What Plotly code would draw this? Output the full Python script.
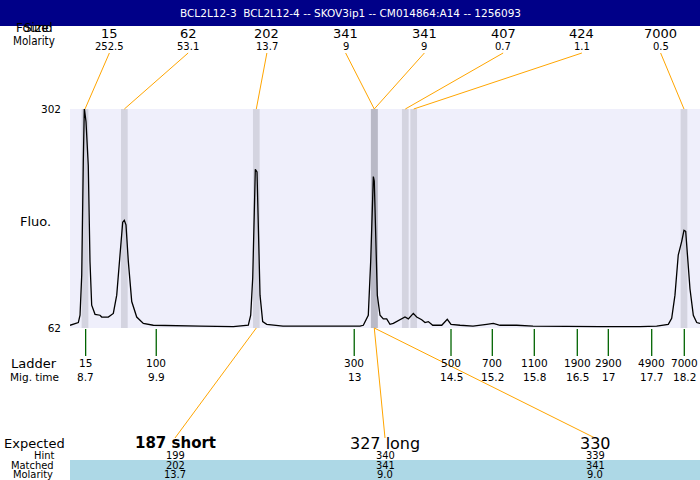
import plotly.graph_objects as go

# ---------------- data ----------------
title_text = "BCL2L12-3  BCL2L12-4 -- SKOV3ip1 -- CM014864:A14 -- 1256093"

mig_time = [8.462, 8.594, 8.621, 8.648, 8.673, 8.689, 8.716, 8.752, 8.779, 8.806,
            8.859, 8.938, 8.965, 9.070, 9.149, 9.203, 9.255, 9.298, 9.323, 9.350,
            9.387, 9.441, 9.520, 9.625, 9.783, 9.996, 10.524, 11.052, 11.290, 11.328,
            11.360, 11.385, 11.401, 11.428, 11.449, 11.476, 11.518, 11.582, 11.840, 12.427,
            12.903, 13.062, 13.114, 13.193, 13.231, 13.257, 13.273, 13.288, 13.311, 13.336,
            13.379, 13.431, 13.485, 13.537, 13.590, 13.669, 13.775, 13.828, 13.907, 13.961,
            14.040, 14.093, 14.145, 14.215, 14.358, 14.446, 14.505, 14.648, 14.854, 15.071,
            15.176, 15.282, 15.547, 15.805, 16.234, 16.868, 17.503, 17.767, 17.951, 18.005,
            18.057, 18.109, 18.164, 18.200, 18.227, 18.253, 18.295, 18.348, 18.402, 18.454]
fluo = [65, 68, 76, 120, 244, 303, 288, 240, 135, 87,
        77, 76, 74, 74, 78, 98, 142, 178, 180, 175,
        135, 91, 74, 67, 65, 64.5, 64, 63.5, 65, 76,
        117, 189, 236, 233, 178, 98, 69, 66, 64, 64,
        64, 64, 65, 76, 135, 208, 228, 223, 153, 98,
        76, 72, 72, 66, 67, 70, 74, 72, 78, 74,
        71, 68, 69, 65, 65, 71.5, 66, 65, 64, 66,
        67, 65, 65, 64, 63.5, 63.5, 63.5, 64, 66, 72.6,
        98, 142, 157, 169, 168, 142, 105, 76, 68, 67]

# found peaks
peak_size = ["15", "62", "202", "341", "341", "407", "424", "7000"]
peak_molarity = ["252.5", "53.1", "13.7", "9", "9", "0.7", "1.1", "0.5"]
peak_time = [8.70, 9.324, 11.417, 13.288, 13.288, 13.780, 13.913, 18.200]
peak_matched = [False, False, False, True, True, False, False, False]

# ladder
ladder_size = ["15", "100", "300", "500", "700", "1100", "1900", "2900", "4900", "7000"]
ladder_time = [8.71, 9.83, 12.97, 14.505, 15.16, 15.826, 16.508, 17.0, 17.688, 18.205]
ladder_time_label = ["8.7", "9.9", "13", "14.5", "15.2", "15.8", "16.5", "17", "17.7", "18.2"]

# expected products
expected_label = ["187 short", "327 long", "330"]
expected_bold = [True, False, False]
expected_peak_time = [11.417, 13.288, 13.288]
hint = ["199", "340", "339"]
matched = ["202", "341", "341"]
matched_molarity = ["13.7", "9.0", "9.0"]

y_range = [62, 302]
x_range = [8.462, 18.454]

# ---------------- layout helpers ----------------
W, H = 700, 480
def py(p):  # pixel row -> paper y
    return 1 - p / H
def px(p):  # pixel col -> paper x
    return p / W

FONT = "DejaVu Sans"
FONT_C = "DejaVu Sans Condensed, DejaVu Sans"
BG = "#efeffb"
BAND = "#d4d4e0"
BAND_DARK = "#b9b9c6"
ORANGE = "#ffa500"
GREEN = "#006400"

def slot(i, n):
    return x_range[0] + (x_range[1] - x_range[0]) * (i + 0.5) / n

fig = go.Figure()
fig.add_trace(go.Scatter(x=mig_time, y=fluo, mode="lines",
                         line=dict(color="black", width=1.3),
                         hoverinfo="skip", showlegend=False, cliponaxis=True))

shapes = []
annotations = []

def txt(text, x, y, size, xref="x", family=FONT, anchor="center", color="black"):
    annotations.append(dict(text=text, xref=xref, yref="paper", x=x, y=py(y), showarrow=False,
                            font=dict(family=family, size=size, color=color),
                            xanchor=anchor, yanchor="middle"))

# title bar
shapes.append(dict(type="rect", xref="paper", yref="paper", x0=0, x1=1,
                   y0=py(26), y1=1, fillcolor="#000088", line=dict(width=0), layer="above"))
txt(title_text, 0.5, 13, 10.5, xref="paper", color="white")

# peak bands
bw = 0.053
for t, m in zip(peak_time, peak_matched):
    shapes.append(dict(type="rect", xref="x", yref="y", x0=t - bw, x1=t + bw,
                       y0=y_range[0], y1=y_range[1], fillcolor=BAND_DARK if m else BAND,
                       line=dict(width=0), layer="below"))

# top labels + connectors
n = len(peak_size)
for i, (s, mo, t) in enumerate(zip(peak_size, peak_molarity, peak_time)):
    sx = slot(i, n)
    txt(s, sx, 34, 13)
    txt(mo, sx, 46.5, 10)
    shapes.append(dict(type="line", xref="x", yref="paper", x0=sx, y0=py(53), x1=t, y1=py(109),
                       line=dict(color=ORANGE, width=1), layer="above"))

# ladder ticks and labels
for s, t, tl in zip(ladder_size, ladder_time, ladder_time_label):
    shapes.append(dict(type="line", xref="x", yref="paper", x0=t, x1=t, y0=py(329), y1=py(356),
                       line=dict(color=GREEN, width=1.3), layer="above"))
    txt(s, t, 363, 10.5)
    txt(tl, t, 376.5, 10.5)

# matched band background
shapes.append(dict(type="rect", xref="paper", yref="paper", x0=px(70), x1=1, y0=0, y1=py(460),
                   fillcolor="#add8e6", line=dict(width=0), layer="below"))

# expected products
ne = len(expected_label)
for j, (lab, b, t, h, mt, mm) in enumerate(zip(expected_label, expected_bold, expected_peak_time,
                                               hint, matched, matched_molarity)):
    sx = slot(j, ne)
    shapes.append(dict(type="line", xref="x", yref="paper", x0=t, y0=py(328), x1=sx, y1=py(438),
                       line=dict(color=ORANGE, width=1), layer="above"))
    txt(f"<b>{lab}</b>" if b else lab, sx, 443, 15 if b else 16)
    txt(h, sx, 455, 11, family=FONT_C)
    txt(mt, sx, 465.5, 11, family=FONT_C)
    txt(mm, sx, 474.5, 11, family=FONT_C)

# left-side labels
txt("Found", px(34), 28, 12, xref="paper")
txt("Size", px(36), 28, 12, xref="paper")
txt("Molarity", px(34), 41, 11.5, xref="paper", family=FONT_C)
txt("Fluo.", px(35), 221, 13, xref="paper")
txt("Ladder", px(34), 363, 13, xref="paper")
txt("Mig. time", px(34.5), 376.5, 10.5, xref="paper")
txt("Expected", px(34), 443, 13, xref="paper")
txt("Hint", px(56), 455, 11, xref="paper", family=FONT_C, anchor="right")
txt("Matched", px(56), 465.5, 11, xref="paper", family=FONT_C, anchor="right")
txt("Molarity", px(55), 474.5, 11, xref="paper", family=FONT_C, anchor="right")

fig.update_layout(
    width=W, height=H, margin=dict(l=0, r=0, t=0, b=0, autoexpand=False),
    paper_bgcolor="white", plot_bgcolor=BG, showlegend=False,
    xaxis=dict(domain=[px(70), 1], range=x_range, showticklabels=False, showgrid=False,
               zeroline=False, showline=False, ticks="", automargin=False),
    yaxis=dict(domain=[py(328), py(109)], range=y_range, tickvals=y_range, showgrid=False,
               zeroline=False, showline=False, ticks="", ticklabelstandoff=8, automargin=False,
               tickfont=dict(family=FONT, size=10.5, color="black")),
    shapes=shapes, annotations=annotations,
)

fig.write_html("out.html", config={"displayModeBar": False},
               post_script="document.body.style.margin='0';document.body.style.overflow='hidden';")
